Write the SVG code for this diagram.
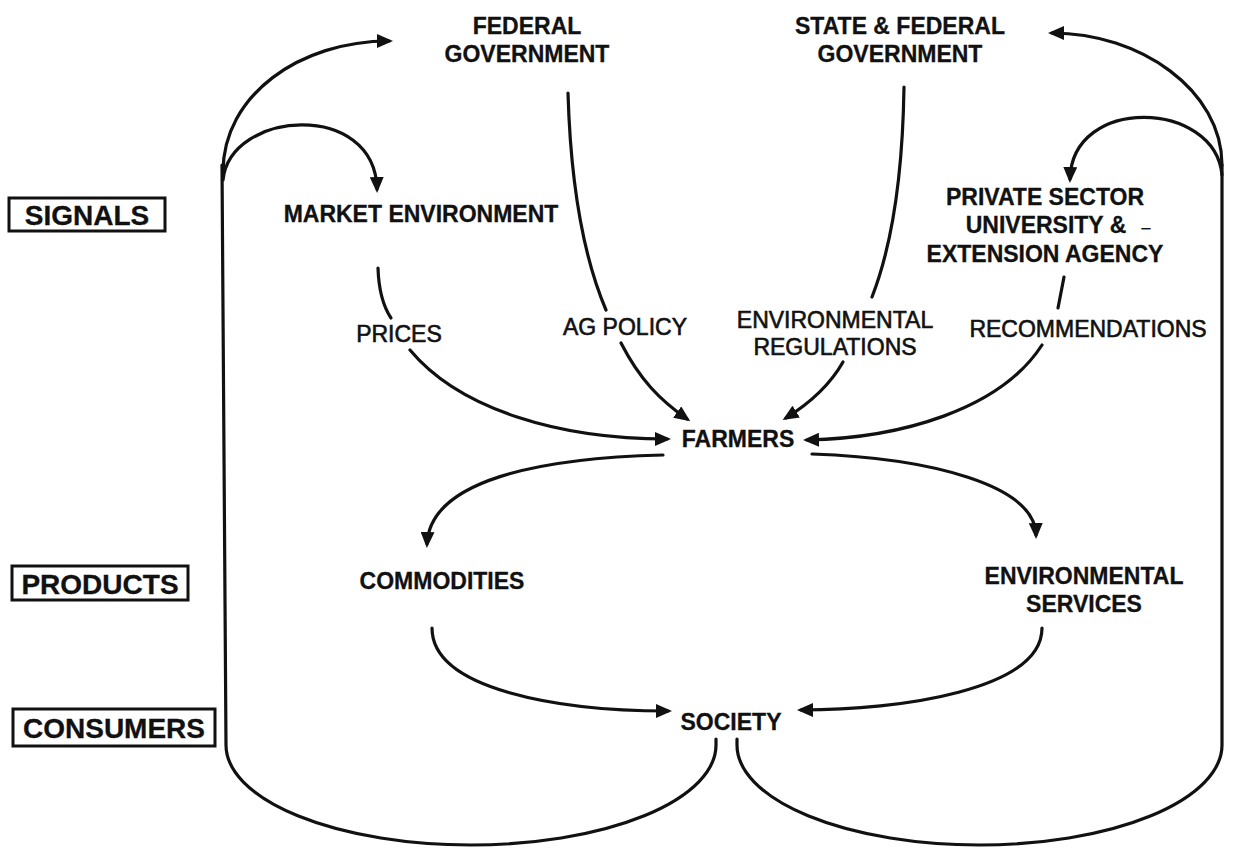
<svg xmlns="http://www.w3.org/2000/svg" width="1237" height="860" viewBox="0 0 1237 860">
  <style>
    .bg { fill: #ffffff; }
    .node { font-family: "Liberation Sans", Arial, Helvetica, sans-serif; font-weight: bold; font-size: 23px; fill: #111; stroke: #111; stroke-width: 0.3; text-anchor: middle; }
    .label { font-family: "Liberation Sans", Arial, Helvetica, sans-serif; font-weight: normal; font-size: 23px; fill: #111; stroke: #111; stroke-width: 0.6; text-anchor: middle; }
    .tier { font-family: "Liberation Sans", Arial, Helvetica, sans-serif; font-weight: bold; font-size: 28px; fill: #111; stroke: #111; stroke-width: 0.3; text-anchor: middle; }
    .tierbox { fill: none; stroke: #111; stroke-width: 3; }
    .flow { fill: none; stroke: #111; stroke-width: 3.2; stroke-linecap: round; }
    .arrow { marker-end: url(#head); }
  </style>
  <defs>
    <marker id="head" viewBox="0 0 16 14" refX="12" refY="7" markerWidth="16" markerHeight="14" markerUnits="userSpaceOnUse" orient="auto">
      <path d="M0,0 L16,7 L0,14 z" fill="#111"/>
    </marker>
  </defs>

  <rect class="bg" x="0" y="0" width="1237" height="860"/>

  <!-- tier labels -->
  <g id="tier-signals">
    <rect class="tierbox" x="9" y="198" width="156" height="33"/>
    <text class="tier" x="87" y="225">SIGNALS</text>
  </g>
  <g id="tier-products">
    <rect class="tierbox" x="12" y="566" width="176" height="34"/>
    <text class="tier" x="100" y="594">PRODUCTS</text>
  </g>
  <g id="tier-consumers">
    <rect class="tierbox" x="13" y="709" width="202" height="37"/>
    <text class="tier" x="114" y="738">CONSUMERS</text>
  </g>

  <!-- nodes -->
  <g id="federal-government">
    <text class="node" x="527" y="34">FEDERAL</text>
    <text class="node" x="527" y="62">GOVERNMENT</text>
  </g>
  <g id="state-federal-government">
    <text class="node" x="900" y="34">STATE &amp; FEDERAL</text>
    <text class="node" x="900" y="62">GOVERNMENT</text>
  </g>
  <g id="market-environment">
    <text class="node" x="421" y="222">MARKET ENVIRONMENT</text>
  </g>
  <g id="private-sector">
    <text class="node" x="1045" y="205">PRIVATE SECTOR</text>
    <text class="node" x="1046" y="233">UNIVERSITY &amp;<tspan x="1146" y="233" font-size="16" font-weight="normal">–</tspan></text>
    <text class="node" x="1045" y="262">EXTENSION AGENCY</text>
  </g>
  <g id="farmers">
    <text class="node" x="738" y="447">FARMERS</text>
  </g>
  <g id="commodities">
    <text class="node" x="442" y="589">COMMODITIES</text>
  </g>
  <g id="environmental-services">
    <text class="node" x="1084" y="584">ENVIRONMENTAL</text>
    <text class="node" x="1084" y="612">SERVICES</text>
  </g>
  <g id="society">
    <text class="node" x="731" y="730">SOCIETY</text>
  </g>

  <!-- connectors -->
  <g id="connectors">
    <!-- outer feedback loops from society back to the top -->
    <path class="flow" d="M716,739 L716,745 A245,100 0 0 1 226,745 L222,165"/>
    <path class="flow" d="M737,739 L737,745 A242.5,100 0 0 0 1222,745 L1222,165"/>
    <path class="flow arrow" d="M223,172 C223,95 300,41 389,41"/>
    <path class="flow arrow" d="M223,180 C230,110 375,100 377,189"/>
    <path class="flow arrow" d="M1222,165 C1222,90 1140,33 1052,33"/>
    <path class="flow arrow" d="M1222,175 C1215,100 1072,95 1070,179"/>

    <!-- signals to farmers, each broken by its label -->
    <path class="flow" d="M378,268 Q379,300 391,318"/>
    <path class="flow arrow" d="M410,350 C460,410 560,439 667,439"/>
    <text class="label" x="399" y="342">PRICES</text>

    <path class="flow" d="M568,93 Q572,230 606,310"/>
    <path class="flow arrow" d="M621,343 C640,380 660,400 687,419"/>
    <text class="label" x="625" y="335">AG POLICY</text>

    <path class="flow" d="M904,87 Q902,220 872,297"/>
    <path class="flow arrow" d="M843,362 C830,385 810,403 786,418"/>
    <text class="label" x="835" y="328">ENVIRONMENTAL</text>
    <text class="label" x="835" y="355">REGULATIONS</text>

    <path class="flow" d="M1064,277 L1058,308"/>
    <path class="flow arrow" d="M1042,345 C1000,410 900,438 807,440"/>
    <text class="label" x="1088" y="337">RECOMMENDATIONS</text>

    <!-- farmers to products -->
    <path class="flow arrow" d="M663,455 C540,458 430,480 427,544"/>
    <path class="flow arrow" d="M812,454 C930,458 1035,485 1036,535"/>

    <!-- products to society -->
    <path class="flow arrow" d="M432,628 C432,690 560,711 668,711"/>
    <path class="flow arrow" d="M1042,628 C1042,690 900,710 801,710"/>
  </g>
</svg>
